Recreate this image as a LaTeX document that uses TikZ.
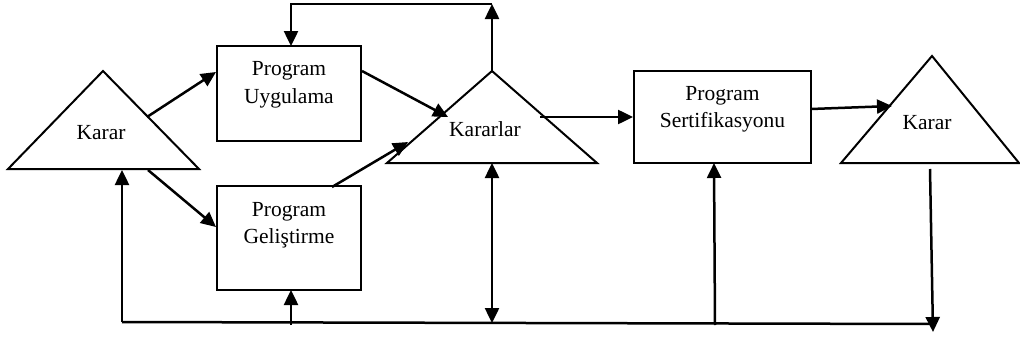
\documentclass[tikz,border=0pt]{standalone}
\usepackage{fontspec}
\setmainfont{Liberation Serif}
\usetikzlibrary{arrows.meta}
\begin{document}
\begin{tikzpicture}[x=1pt,y=-1pt,
  cizgi/.style={line width=2pt, line join=miter},
  blok/.style={draw, line width=2pt, inner sep=0pt},
  etiket/.style={font=\fontsize{21.5}{27.5}\selectfont, align=center, inner sep=0pt},
  hat/.style={line width=2.5pt},
  ok/.style={hat, -{Triangle[length=15pt,width=14pt]}},
  cift/.style={hat, {Triangle[length=15pt,width=14pt]}-{Triangle[length=15pt,width=14pt]}}]
\useasboundingbox (0,0) rectangle (1020,340);

% decision triangles
\draw[cizgi] (8,169) -- (103,71) -- (199,169) -- cycle;
\draw[cizgi] (387,163) -- (492,71) -- (597,163) -- cycle;
\draw[cizgi] (841,163) -- (932,56) -- (1019,163) -- cycle;
\node[etiket] (karar1) at (101,133) {Karar};
\node[etiket] (kararlar) at (485,129) {Kararlar};
\node[etiket] (karar2) at (927,123) {Karar};

% process boxes
\node[blok, minimum width=144pt, minimum height=95pt] (uyg) at (289,93.5) {};
\node[blok, minimum width=144pt, minimum height=104pt] (gel) at (289,238) {};
\node[blok, minimum width=177pt, minimum height=92pt] (ser) at (722.5,117) {};
\node[etiket] (uygT) at (289,85) {Program\\Uygulama};
\node[etiket] (gelT) at (289,225) {Program\\Geliştirme};
\node[etiket] (serT) at (722.5,109.5) {Program\\Sertifikasyonu};

% connector end points
\coordinate (a1s) at (147,117);  \coordinate (a1e) at (216,72);
\coordinate (a2s) at (362,71);   \coordinate (a2e) at (448,117);
\coordinate (a3s) at (148,170);  \coordinate (a3e) at (216,227);
\coordinate (a4s) at (332,187);  \coordinate (a4e) at (408,142);
\coordinate (a6s) at (540,117);  \coordinate (a6e) at (633,117);
\coordinate (a7s) at (811,109);  \coordinate (a7e) at (892,106);
\coordinate (tep) at (492,71);   \coordinate (ust) at (492,4);
\coordinate (ustL) at (291,4);   \coordinate (uygU) at (291,46);
\coordinate (altL) at (122,322); \coordinate (k1B) at (122,170);
\coordinate (altR) at (933,324);
\coordinate (gelA) at (291,325); \coordinate (gelB) at (291,290);
\coordinate (ktB) at (492,163);  \coordinate (ktA) at (492,323);
\coordinate (serA) at (715,325); \coordinate (serB) at (714,163);
\coordinate (k2B) at (930,169);  \coordinate (k2A) at (933,332);

% flows between stages
\draw[ok] (a1s) -- (a1e);
\draw[ok] (a2s) -- (a2e);
\draw[ok] (a3s) -- (a3e);
\draw[ok] (a4s) -- (a4e);
\draw[ok] (a6s) -- (a6e);
\draw[ok] (a7s) -- (a7e);

% feedback loop over the top
\draw[ok] (tep) -- (ust);
\draw[ok] (ust) -- (ustL) -- (uygU);

% feedback bus along the bottom
\draw[hat] (altL) -- (altR);
\draw[ok] (altL) -- (k1B);
\draw[ok] (gelA) -- (gelB);
\draw[cift] (ktB) -- (ktA);
\draw[ok] (serA) -- (serB);
\draw[ok] (k2B) -- (k2A);
\end{tikzpicture}
\end{document}
